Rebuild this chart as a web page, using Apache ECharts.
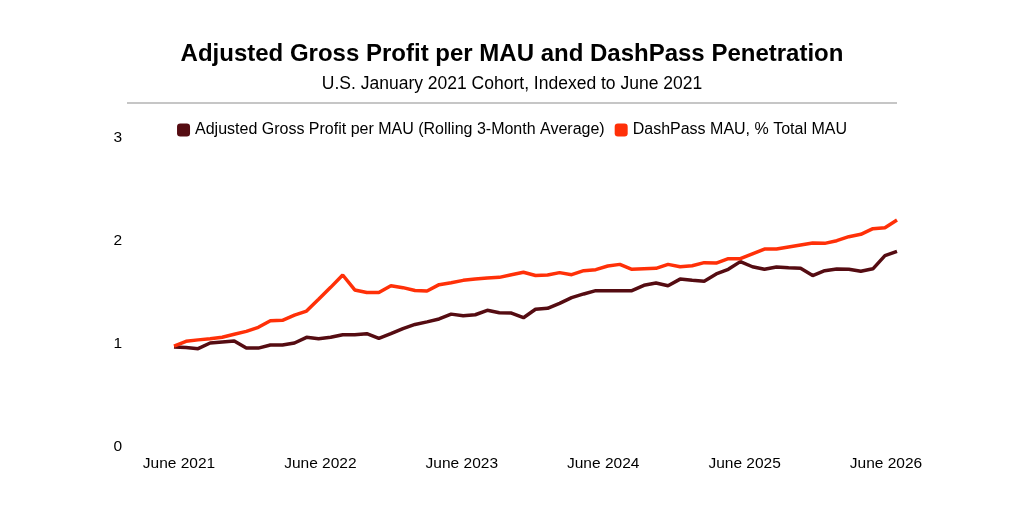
<!DOCTYPE html>
<html>
<head>
<meta charset="utf-8">
<script src="https://cdn.jsdelivr.net/npm/echarts@6/dist/echarts.min.js"></script>
<style>
  html, body { margin: 0; padding: 0; background: #fff; }
  #chart { width: 1024px; height: 512px; }
</style>
</head>
<body>
<div id="chart"></div>
<script>
// monthly points, June 2021 .. June 2026
var months = [];
for (var i = 0; i <= 60; i++) months.push(i);
var tickLabels = ['June 2021', 'June 2022', 'June 2023', 'June 2024', 'June 2025', 'June 2026'];

// Adjusted Gross Profit per MAU (rolling 3-month avg), indexed
var grossProfit = [
    0.97, 0.965, 0.955, 1.01, 1.02, 1.03, 0.96, 0.96, 0.99, 0.99,
    1.01, 1.065, 1.05, 1.065, 1.09, 1.09, 1.10, 1.055, 1.10, 1.15,
    1.19, 1.215, 1.243, 1.29, 1.275, 1.284, 1.327, 1.304, 1.30, 1.255,
    1.337, 1.346, 1.395, 1.45, 1.486, 1.518, 1.518, 1.518, 1.518, 1.57,
    1.592, 1.566, 1.63, 1.618, 1.61, 1.68, 1.725, 1.80, 1.75, 1.725,
    1.748, 1.74, 1.735, 1.665, 1.712, 1.728, 1.725, 1.706, 1.73, 1.858,
    1.90
];
// DashPass MAU, % total MAU, indexed
var dashPass = [
    0.98, 1.026, 1.04, 1.05, 1.065, 1.094, 1.123, 1.162, 1.226, 1.23,
    1.28, 1.32, 1.434, 1.55, 1.67, 1.525, 1.50, 1.50, 1.566, 1.547,
    1.52, 1.515, 1.576, 1.595, 1.618, 1.63, 1.64, 1.647, 1.673, 1.696,
    1.665, 1.67, 1.693, 1.673, 1.712, 1.722, 1.757, 1.773, 1.725, 1.731,
    1.735, 1.773, 1.75, 1.76, 1.79, 1.786, 1.828, 1.828, 1.875, 1.922,
    1.922, 1.942, 1.961, 1.98, 1.977, 2.003, 2.042, 2.065, 2.12, 2.129,
    2.204
];

var chart = echarts.init(document.getElementById('chart'));
var font = 'Liberation Sans, Arial, sans-serif';

var option = {
    backgroundColor: '#fff',
    animation: false,
    textStyle: { fontFamily: font },
    title: {
        text: 'Adjusted Gross Profit per MAU and DashPass Penetration',
        subtext: 'U.S. January 2021 Cohort, Indexed to June 2021',
        left: 'center',
        top: 37,
        itemGap: 9,
        textStyle: { fontSize: 24, fontWeight: 'bold', color: '#000', fontFamily: font },
        subtextStyle: { fontSize: 17.5, color: '#000', fontFamily: font }
    },
    graphic: [{
        type: 'line',
        shape: { x1: 127, y1: 103, x2: 897, y2: 103 },
        style: { stroke: '#b3b3b3', lineWidth: 1.5 }
    }],
    legend: {
        top: 117,
        left: 'center',
        icon: 'roundRect',
        itemWidth: 13,
        itemHeight: 13,
        itemGap: 10,
        textStyle: { fontSize: 16, color: '#000', fontFamily: font },
        data: ['Adjusted Gross Profit per MAU (Rolling 3-Month Average)', 'DashPass MAU, % Total MAU']
    },
    grid: [
        { left: 174, right: 127, top: 138, bottom: 65 },
        { left: 179, right: 138, top: 138, bottom: 65 }
    ],
    xAxis: [{
        type: 'category',
        data: months,
        boundaryGap: false,
        axisLine: { show: false },
        axisTick: { show: false },
        axisLabel: { show: false }
    }, {
        // label-only axis
        type: 'category',
        gridIndex: 1,
        data: months,
        boundaryGap: false,
        axisLine: { show: false },
        axisTick: { show: false },
        axisLabel: {
            interval: 11,
            margin: 9,
            fontSize: 15.5,
            color: '#000',
            fontFamily: font,
            formatter: function (v, idx) { return tickLabels[idx / 12]; }
        }
    }],
    yAxis: [{
        type: 'value',
        min: 0,
        max: 3,
        interval: 1,
        axisLine: { show: false },
        axisTick: { show: false },
        splitLine: { show: false },
        axisLabel: { margin: 52, fontSize: 15.5, color: '#000', fontFamily: font }
    }, {
        type: 'value',
        gridIndex: 1,
        show: false,
        min: 0,
        max: 3
    }],
    series: [{
        name: 'Adjusted Gross Profit per MAU (Rolling 3-Month Average)',
        type: 'line',
        data: grossProfit,
        symbol: 'none',
        color: '#550c12',
        lineStyle: { width: 3.5, color: '#550c12' }
    }, {
        name: 'DashPass MAU, % Total MAU',
        type: 'line',
        data: dashPass,
        symbol: 'none',
        color: '#ff3008',
        lineStyle: { width: 3.5, color: '#ff3008' }
    }]
};

chart.setOption(option);
window.addEventListener('resize', () => {
    chart.resize();
})
</script>
</body>
</html>
